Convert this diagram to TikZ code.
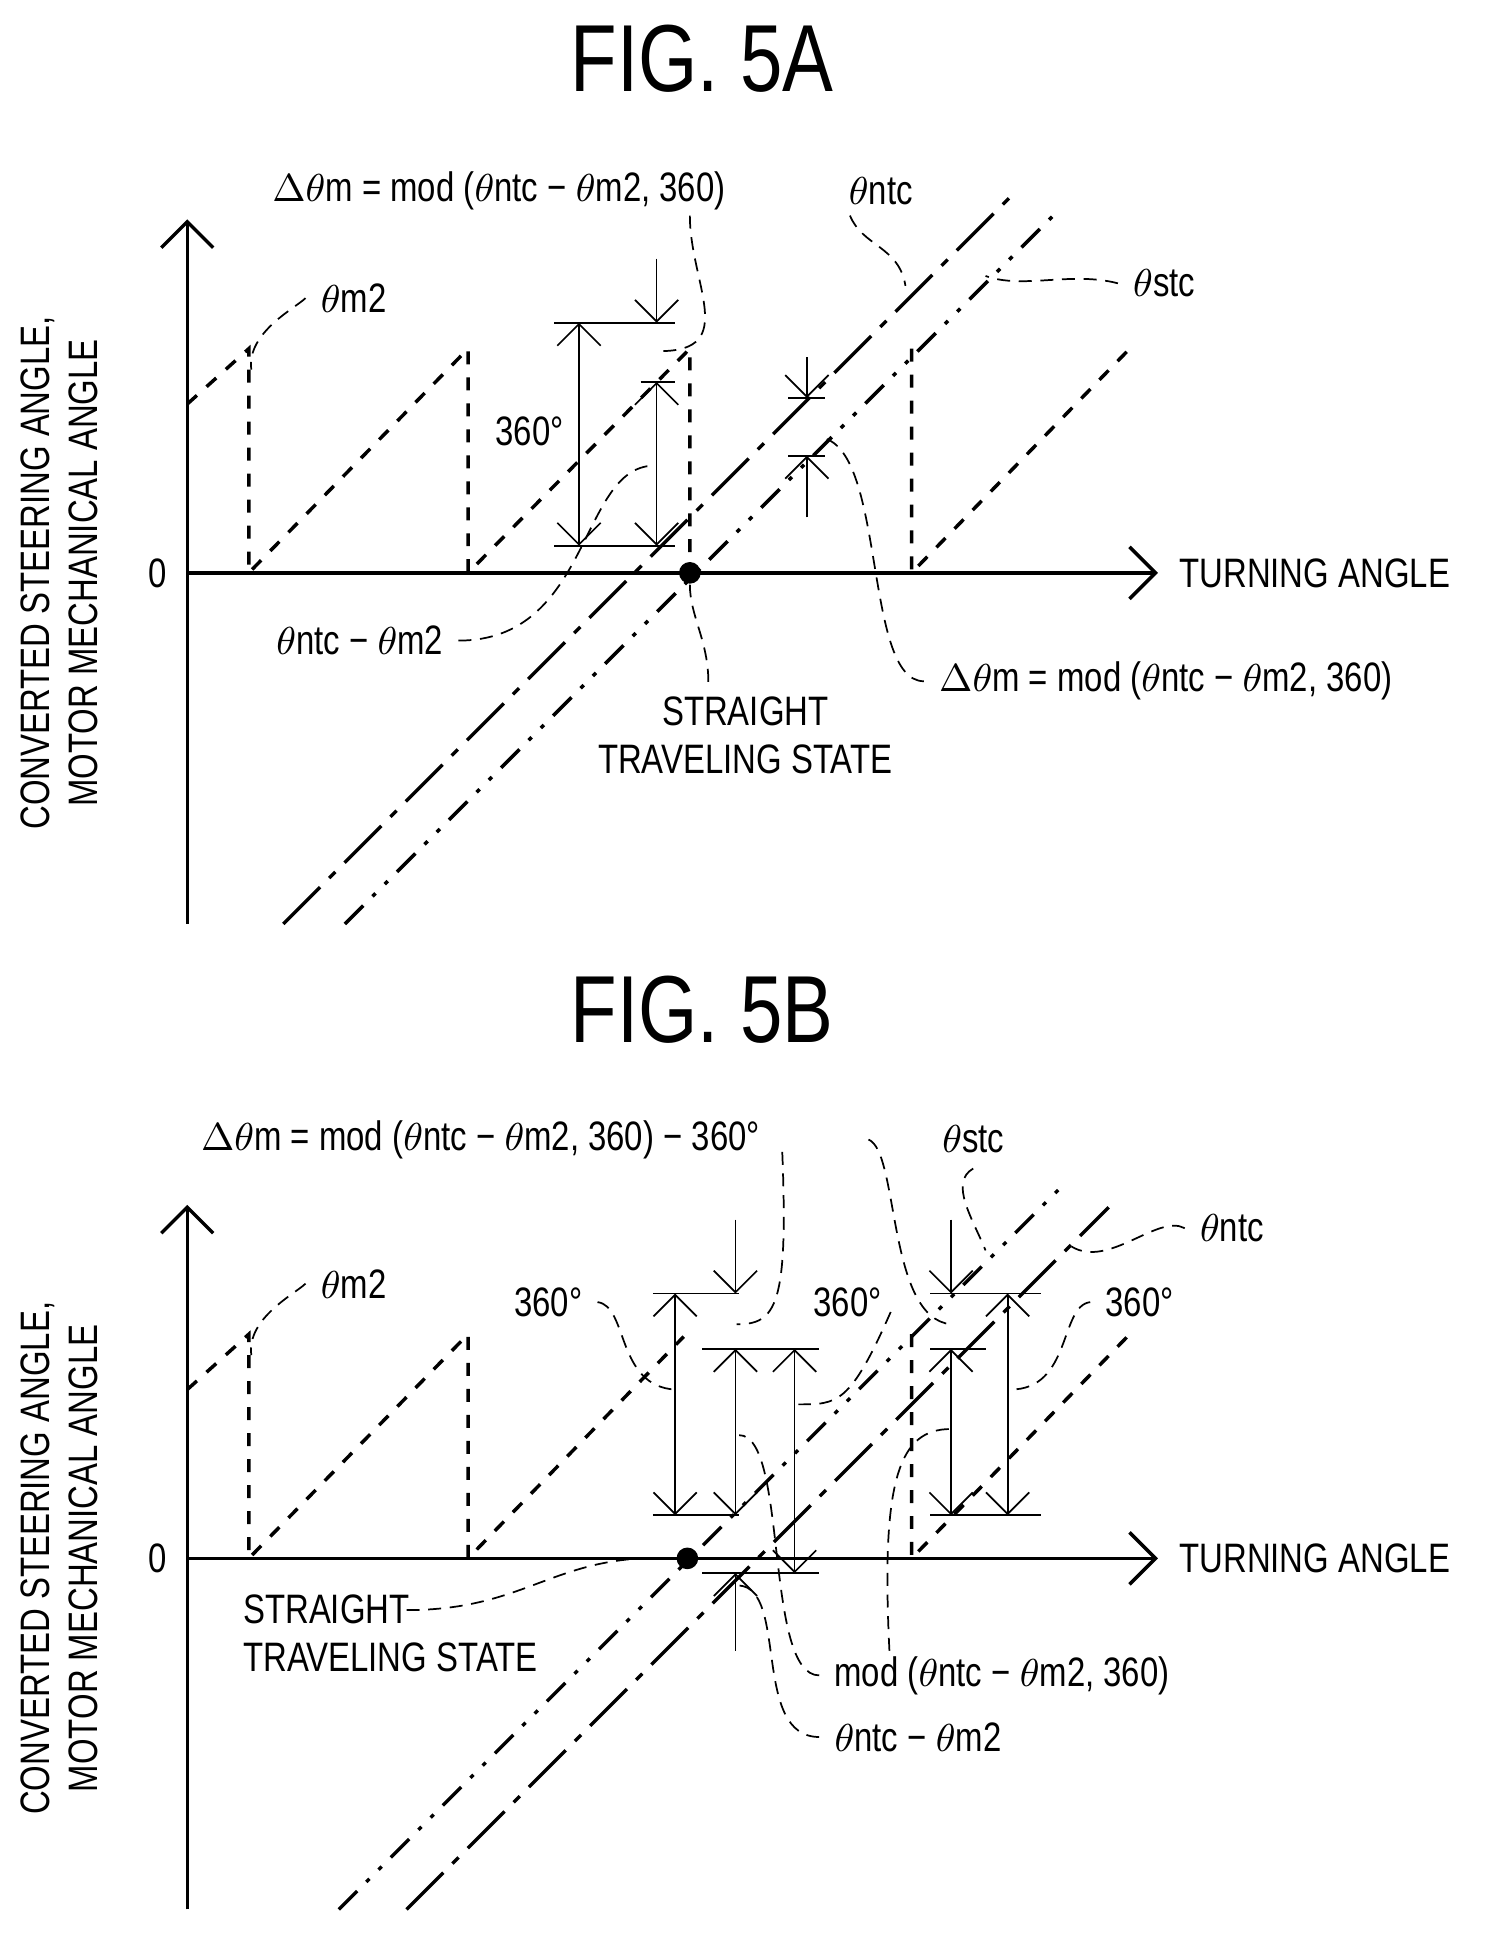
\documentclass[tikz,border=0pt]{standalone}
\usepackage{fontspec}
\setmainfont{Liberation Sans}[FakeStretch=0.8]
\usetikzlibrary{arrows.meta}

\begin{document}
\begin{tikzpicture}[x=0.1mm,y=-0.1mm,font=\fontsize{9.5}{11}\selectfont]
    \tikzstyle{axis}=[thick,-{Straight Barb[length=6pt]}]
    \tikzstyle{saw}=[dashed,thick]
    \tikzstyle{ntc}=[thick,dash pattern=on 12pt off 3pt on 2pt off 3pt]
    \tikzstyle{stc}=[thick,dash pattern=on 6pt off 3pt on 1pt off 3pt on 1pt off 3pt]
    \tikzstyle{dim}=[thin,-{Straight Barb[length=5pt]}]
    \tikzstyle{ddim}=[thin,{Straight Barb[length=5pt]}-{Straight Barb[length=5pt]}]
    \tikzstyle{lead}=[thin,densely dashed]
    \tikzstyle{title}=[font=\fontsize{22}{24}\selectfont]
    \useasboundingbox (0,0) rectangle (1210,1574);

    % FIG. 5A
    \node (ta)[title] at (570,48) {FIG. 5A};
    \node (oa) at (152,750) {};
    \node (ya) at (152,178) {};
    \node (xa) at (940,465) {};
    \draw[axis] (oa.center) -- (ya.center);
    \draw[axis] (152,465) -- (xa.center);
    \node (za) at (128,465) {0};
    \node (xla)[anchor=west] at (945,465) {TURNING ANGLE};
    \node (yla)[rotate=90,align=center] at (48,465) {CONVERTED STEERING ANGLE,\\MOTOR MECHANICAL ANGLE};
    \draw[saw] (152,328) -- (202,283) -- (202,465) -- (380,283) -- (380,465) -- (560,283) -- (560,465);
    \draw[saw] (740,283) -- (740,465) -- (920,280);
    \draw[ntc] (230,750) -- (820,160);
    \draw[stc] (280,750) -- (855,175);
    \node (sa)[circle,fill=black,inner sep=0pt,minimum size=5pt] at (560,465) {};
    \draw[thin] (450,262) -- (548,262);
    \draw[thin] (450,443) -- (548,443);
    \draw[thin] (520,310) -- (548,310);
    \draw[ddim] (470,262) -- (470,443);
    \draw[dim] (533,210) -- (533,262);
    \draw[ddim] (533,310) -- (533,443);
    \draw[thin] (640,323) -- (670,323);
    \draw[thin] (640,370) -- (670,370);
    \draw[dim] (655,290) -- (655,323);
    \draw[dim] (655,420) -- (655,370);
    \node (d1a) at (405,155) {$\Delta\theta$m = mod ($\theta$ntc − $\theta$m2, 360)};
    \node (nla) at (715,155) {$\theta$ntc};
    \node (sla) at (945,230) {$\theta$stc};
    \node (m2a) at (287,242) {$\theta$m2};
    \node (r1a) at (430,350) {360°};
    \node (dfa) at (292,520) {$\theta$ntc − $\theta$m2};
    \node (d2a)[anchor=west] at (750,553) {$\Delta\theta$m = mod ($\theta$ntc − $\theta$m2, 360)};
    \node (sta)[align=center] at (605,597) {STRAIGHT\\TRAVELING STATE};
    \draw[lead] (560,175) .. controls (560,230) and (600,285) .. (536,285);
    \draw[lead] (690,175) .. controls (700,200) and (730,200) .. (735,232);
    \draw[lead] (sla.west) .. controls (870,220) and (830,235) .. (800,224);
    \draw[lead] (m2a.west) .. controls (240,250) and (200,270) .. (204,300);
    \draw[lead] (dfa.east) .. controls (480,520) and (470,380) .. (530,378);
    \draw[lead] (d2a.west) .. controls (700,553) and (720,360) .. (665,355);
    \draw[lead] (sta.north) ++(-30,0) .. controls (575,520) and (560,500) .. (sa.south);

    % FIG. 5B
    \node (tb)[title] at (570,820) {FIG. 5B};
    \node (ob) at (152,1550) {};
    \node (yb) at (152,978) {};
    \node (xb) at (940,1265) {};
    \draw[axis] (ob.center) -- (yb.center);
    \draw[axis] (152,1265) -- (xb.center);
    \node (zb) at (128,1265) {0};
    \node (xlb)[anchor=west] at (945,1265) {TURNING ANGLE};
    \node (ylb)[rotate=90,align=center] at (48,1265) {CONVERTED STEERING ANGLE,\\MOTOR MECHANICAL ANGLE};
    \draw[saw] (152,1128) -- (202,1083) -- (202,1265) -- (380,1083) -- (380,1265) -- (555,1085);
    \draw[saw] (740,1083) -- (740,1265) -- (920,1080);
    \draw[stc] (275,1550) -- (860,965);
    \draw[ntc] (330,1550) -- (900,980);
    \node (sb)[circle,fill=black,inner sep=0pt,minimum size=5pt] at (558,1265) {};
    \draw[thin] (530,1050) -- (600,1050);
    \draw[thin] (570,1095) -- (665,1095);
    \draw[thin] (530,1230) -- (600,1230);
    \draw[thin] (570,1277) -- (665,1277);
    \draw[thin] (755,1050) -- (845,1050);
    \draw[thin] (755,1095) -- (800,1095);
    \draw[thin] (755,1230) -- (845,1230);
    \draw[ddim] (548,1050) -- (548,1230);
    \draw[dim] (597,990) -- (597,1050);
    \draw[ddim] (597,1095) -- (597,1230);
    \draw[dim] (597,1340) -- (597,1277);
    \draw[ddim] (645,1095) -- (645,1277);
    \draw[dim] (772,990) -- (772,1050);
    \draw[ddim] (772,1095) -- (772,1230);
    \draw[ddim] (818,1050) -- (818,1230);
    \node (d1b) at (390,925) {$\Delta\theta$m = mod ($\theta$ntc − $\theta$m2, 360) − 360°};
    \node (slb) at (790,925) {$\theta$stc};
    \node (nlb) at (1000,997) {$\theta$ntc};
    \node (m2b) at (287,1042) {$\theta$m2};
    \node (r1b) at (445,1057) {360°};
    \node (r2b) at (688,1057) {360°};
    \node (r3b) at (925,1057) {360°};
    \node (stb)[align=left,anchor=west] at (185,1326) {STRAIGHT\\TRAVELING STATE};
    \node (mdb)[anchor=west] at (665,1360) {mod ($\theta$ntc − $\theta$m2, 360)};
    \node (dfb)[anchor=west] at (665,1410) {$\theta$ntc − $\theta$m2};
    \draw[lead] (635,935) .. controls (640,1060) and (630,1075) .. (598,1075);
    \draw[lead] (705,925) .. controls (730,935) and (720,1070) .. (772,1075);
    \draw[lead] (slb.south) .. controls (770,960) and (790,990) .. (800,1015);
    \draw[lead] (nlb.west) .. controls (940,985) and (900,1030) .. (870,1012);
    \draw[lead] (m2b.west) .. controls (240,1050) and (200,1070) .. (204,1100);
    \draw[lead] (r1b.east) .. controls (510,1060) and (500,1125) .. (548,1128);
    \draw[lead] (r2b.east) ++(-5,8) .. controls (690,1140) and (680,1140) .. (648,1140);
    \draw[lead] (r3b.west) .. controls (860,1060) and (870,1128) .. (820,1128);
    \draw[lead] (330,1307) .. controls (430,1307) and (450,1260) .. (sb.west);
    \draw[lead] (mdb.west) .. controls (620,1360) and (640,1165) .. (600,1165);
    \draw[lead] (dfb.west) .. controls (610,1410) and (640,1290) .. (600,1287);
    \draw[lead] (722,1340) .. controls (715,1200) and (730,1160) .. (772,1160);
\end{tikzpicture}
\end{document}
